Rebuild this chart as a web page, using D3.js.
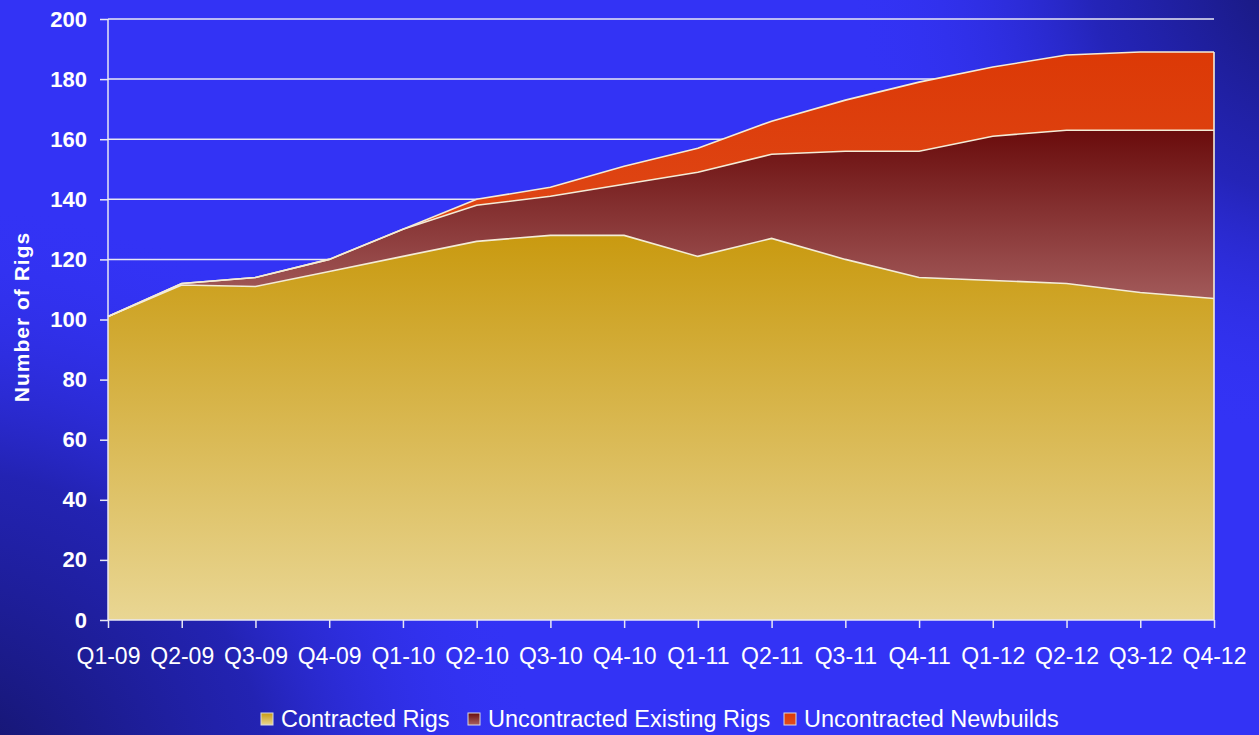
<!DOCTYPE html>
<html>
<head>
<meta charset="utf-8">
<script src="https://cdn.jsdelivr.net/npm/d3@7"></script>
<style>
  html, body { margin: 0; padding: 0; background: #3333f5; }
  svg { display: block; }
</style>
</head>
<body>
<div id="chart"></div>
<script>
// Chart data
const quarters = ["Q1-09", "Q2-09", "Q3-09", "Q4-09", "Q1-10", "Q2-10", "Q3-10", "Q4-10",
                  "Q1-11", "Q2-11", "Q3-11", "Q4-11", "Q1-12", "Q2-12", "Q3-12", "Q4-12"];
const contracted = [101, 111.5, 111, 116, 121, 126, 128, 128, 121, 127, 120, 114, 113, 112, 109, 107];
const uncontractedExisting = [0, 0.5, 3, 4, 9, 12, 13, 17, 28, 28, 36, 42, 48, 51, 54, 56];
const uncontractedNewbuilds = [0, 0, 0, 0, 0, 2, 3, 6, 8, 11, 17, 23, 23, 25, 26, 26];
const seriesNames = ["Contracted Rigs", "Uncontracted Existing Rigs", "Uncontracted Newbuilds"];
const yTicks = [0, 20, 40, 60, 80, 100, 120, 140, 160, 180, 200];

const width = 1259, height = 735;
const margin = {top: 19, right: 45, bottom: 115, left: 108};

let svg = d3.select("#chart")
    .append("svg")
    .attr("width", width)
    .attr("height", height);

let defs = svg.append("defs");

// background: bright blue with darker corners
let bgL = defs.append("radialGradient").attr("id", "bgL")
    .attr("gradientUnits", "userSpaceOnUse")
    .attr("cx", -60).attr("cy", 800).attr("r", 600);
bgL.append("stop").attr("offset", "0%").attr("stop-color", "#12125e").attr("stop-opacity", 1);
bgL.append("stop").attr("offset", "55%").attr("stop-color", "#1c1c96").attr("stop-opacity", 0.7);
bgL.append("stop").attr("offset", "100%").attr("stop-color", "#3333f5").attr("stop-opacity", 0);

let bgR = defs.append("radialGradient").attr("id", "bgR")
    .attr("gradientUnits", "userSpaceOnUse")
    .attr("cx", 1330).attr("cy", -40).attr("r", 480);
bgR.append("stop").attr("offset", "0%").attr("stop-color", "#141466").attr("stop-opacity", 1);
bgR.append("stop").attr("offset", "50%").attr("stop-color", "#1e1e9e").attr("stop-opacity", 0.7);
bgR.append("stop").attr("offset", "100%").attr("stop-color", "#3333f5").attr("stop-opacity", 0);

svg.append("rect").attr("width", width).attr("height", height).attr("fill", "#3333f5");
svg.append("rect").attr("width", width).attr("height", height).attr("fill", "url(#bgL)");
svg.append("rect").attr("width", width).attr("height", height).attr("fill", "url(#bgR)");

// area gradients
const gradStops = [
    [["0%", "#c99a10"], ["100%", "#e9d693"]],
    [["0%", "#6a0c0c"], ["100%", "#a86262"]],
    [["0%", "#dc3906"], ["100%", "#e04e1e"]]
];
gradStops.forEach(function(stops, i) {
    let g = defs.append("linearGradient").attr("id", "grad" + i)
        .attr("x1", 0).attr("y1", 0).attr("x2", 0).attr("y2", 1);
    stops.forEach(function(s) {
        g.append("stop").attr("offset", s[0]).attr("stop-color", s[1]);
    });
});

let x = d3.scalePoint()
    .domain(quarters)
    .range([margin.left, width - margin.right]);

let y = d3.scaleLinear()
    .domain([0, 200])
    .range([height - margin.bottom, margin.top]);

// gridlines
svg.append("g")
    .selectAll("line")
    .data(yTicks.slice(1))
    .enter()
    .append("line")
    .attr("x1", margin.left)
    .attr("x2", width - margin.right)
    .attr("y1", d => y(d))
    .attr("y2", d => y(d))
    .attr("stroke", "#e8e8f4")
    .attr("stroke-width", 1.5);

// stack the three series
let table = quarters.map(function(q, i) {
    return {q: q, c: contracted[i], e: uncontractedExisting[i], n: uncontractedNewbuilds[i]};
});
let stacked = d3.stack().keys(["c", "e", "n"])(table);

let area = d3.area()
    .x(d => x(d.data.q))
    .y0(d => y(d[0]))
    .y1(d => y(d[1]));

svg.append("g")
    .selectAll("path")
    .data(stacked)
    .enter()
    .append("path")
    .attr("d", area)
    .attr("fill", (d, i) => `url(#grad${i})`);

// outlines along the series tops
let topLine = d3.line()
    .x(d => x(d.data.q))
    .y(d => y(d[1]));

svg.append("g")
    .selectAll("path")
    .data(stacked)
    .enter()
    .append("path")
    .attr("d", topLine)
    .attr("fill", "none")
    .attr("stroke", "#f4ecd6")
    .attr("stroke-width", 1.6);

// right edge of the stack
let last = stacked[2][quarters.length - 1];
svg.append("line")
    .attr("x1", x(quarters[quarters.length - 1]))
    .attr("x2", x(quarters[quarters.length - 1]))
    .attr("y1", y(0))
    .attr("y2", y(last[1]))
    .attr("stroke", "#f4ecd6")
    .attr("stroke-width", 1.6);

// y axis
let yAxis = svg.append("g")
    .attr("transform", `translate(${margin.left}, 0)`)
    .call(d3.axisLeft(y).tickValues(yTicks).tickSize(8).tickPadding(13));
yAxis.selectAll("text")
    .style("font-family", "'Liberation Sans', Arial, sans-serif")
    .style("font-size", "22px")
    .style("font-weight", "bold")
    .attr("fill", "#ffffff");

// x axis
let xAxis = svg.append("g")
    .attr("transform", `translate(0, ${y(0)})`)
    .call(d3.axisBottom(x).tickSize(8).tickPadding(20));
xAxis.selectAll("text")
    .style("font-family", "'Liberation Sans', Arial, sans-serif")
    .style("font-size", "23px")
    .attr("fill", "#ffffff");

[yAxis, xAxis].forEach(function(ax) {
    ax.select(".domain").attr("stroke", "#e8e8f4").attr("stroke-width", 1.5);
    ax.selectAll(".tick line").attr("stroke", "#e8e8f4").attr("stroke-width", 1.5);
});
xAxis.select(".domain").attr("d", `M${margin.left},0H${width - margin.right}`);
yAxis.select(".domain").attr("d", `M0,${y(0)}V${y(200)}`);

// y axis title
svg.append("text")
    .attr("transform", `translate(29, 317) rotate(-90)`)
    .style("text-anchor", "middle")
    .style("font-family", "'Liberation Sans', Arial, sans-serif")
    .style("font-size", "21px")
    .style("font-weight", "bold")
    .style("letter-spacing", "1px")
    .attr("fill", "#ffffff")
    .text("Number of Rigs");

// legend
const legendX = [261, 468, 784];
let legend = svg.append("g").selectAll("g")
    .data(seriesNames)
    .enter()
    .append("g")
    .attr("transform", (d, i) => `translate(${legendX[i]}, 713)`);

legend.append("rect")
    .attr("width", 12)
    .attr("height", 12)
    .attr("fill", (d, i) => `url(#grad${i})`)
    .attr("stroke", "#d8d8e0")
    .attr("stroke-width", 1);

legend.append("text")
    .attr("x", 20)
    .attr("y", 14)
    .style("font-family", "'Liberation Sans', Arial, sans-serif")
    .style("font-size", "23.5px")
    .attr("fill", "#ffffff")
    .text(d => d);
</script>
</body>
</html>
